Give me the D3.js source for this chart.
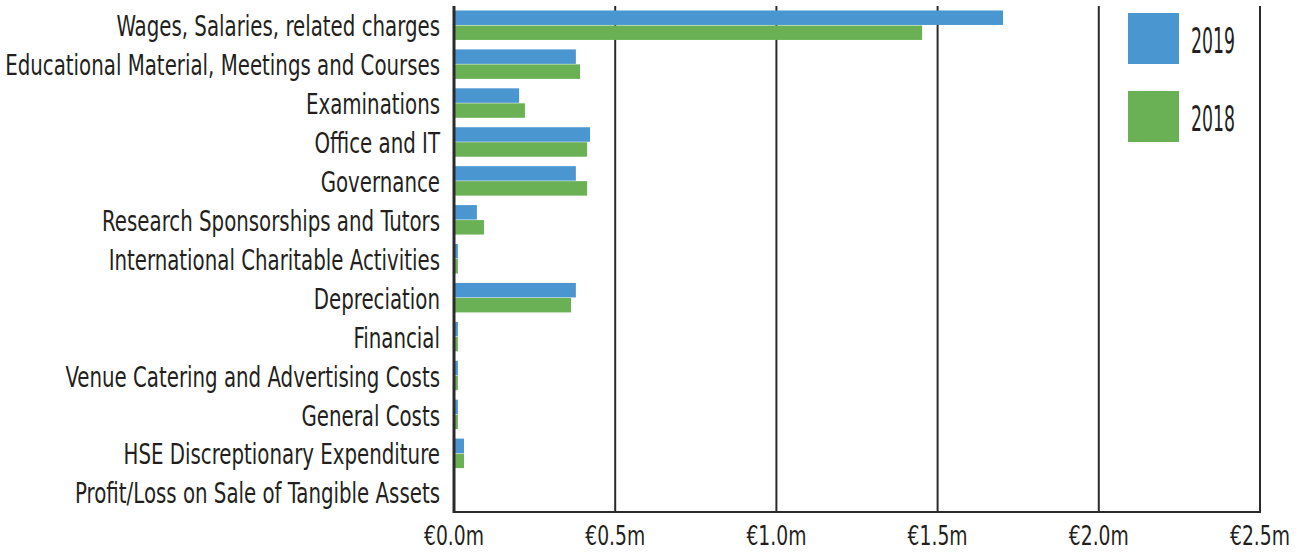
<!DOCTYPE html>
<html>
<head>
<meta charset="utf-8">
<script src="https://cdn.jsdelivr.net/npm/d3@7"></script>
<style>
html,body{margin:0;padding:0;background:#fff;}
svg{display:block;}
text{font-family:"Liberation Sans Narrow","DejaVu Sans Condensed","Roboto Condensed",sans-serif;fill:#231f20;}
</style>
</head>
<body>
<svg id="chart" width="1299" height="552"></svg>
<script>
const categories = [
  "Wages, Salaries, related charges",
  "Educational Material, Meetings and Courses",
  "Examinations",
  "Office and IT",
  "Governance",
  "Research Sponsorships and Tutors",
  "International Charitable Activities",
  "Depreciation",
  "Financial",
  "Venue Catering and Advertising Costs",
  "General Costs",
  "HSE Discreptionary Expenditure",
  "Profit/Loss on Sale of Tangible Assets"
];
const series = ["2019", "2018"];
const values2019 = [1.703, 0.378, 0.202, 0.422, 0.378, 0.071, 0.012, 0.378, 0.012, 0.012, 0.012, 0.031, 0];
const values2018 = [1.452, 0.391, 0.220, 0.413, 0.413, 0.093, 0.012, 0.363, 0.012, 0.012, 0.012, 0.031, 0];
const tickValues = [0, 0.5, 1.0, 1.5, 2.0, 2.5];
const tickLabels = ["€0.0m", "€0.5m", "€1.0m", "€1.5m", "€2.0m", "€2.5m"];
const colors = {"2019": "#4a96d1", "2018": "#6ab155"};

const svg = d3.select("#chart");
const x = d3.scaleLinear().domain([0, 2.5]).range([454, 1260]);
const y = d3.scaleBand().domain(categories).range([6, 512]).paddingInner(0.23).paddingOuter(0.115);
const y1 = d3.scaleBand().domain(series).range([0, y.bandwidth()]);

const data = categories.map((c, i) => ({cat: c, vals: [
  {s: "2019", v: values2019[i]},
  {s: "2018", v: values2018[i]}
]}));

// gridlines
svg.append("g").selectAll("line").data(tickValues.slice(1)).join("line")
  .attr("x1", d => x(d)).attr("x2", d => x(d))
  .attr("y1", 6).attr("y2", 512)
  .attr("stroke", "#2b2b2b").attr("stroke-width", 2);

// bars
const g = svg.append("g").selectAll("g").data(data).join("g")
  .attr("transform", d => `translate(0,${y(d.cat)})`);
g.selectAll("rect").data(d => d.vals).join("rect")
  .attr("x", x(0))
  .attr("y", d => y1(d.s))
  .attr("height", y1.bandwidth() - 0.5)
  .attr("width", d => x(d.v) - x(0))
  .attr("fill", d => colors[d.s]);

// axis lines
svg.append("line").attr("x1", x(0)).attr("x2", x(0)).attr("y1", 6).attr("y2", 513)
  .attr("stroke", "#2b2b2b").attr("stroke-width", 3);
svg.append("line").attr("x1", x(0)).attr("x2", x(2.5) + 1).attr("y1", 512).attr("y2", 512)
  .attr("stroke", "#2b2b2b").attr("stroke-width", 2);

// category labels
const labels = svg.append("g").selectAll("text").data(categories).join("text")
  .attr("text-anchor", "end")
  .attr("font-size", 28)
  .attr("dy", "0.35em")
  .text(d => d);
let maxW = 0;
labels.each(function(){ maxW = Math.max(maxW, this.getComputedTextLength()); });
const sxL = 435 / maxW;
labels.attr("transform", d => `translate(440,${y(d) + y.bandwidth()/2 + 1}) scale(${sxL},1)`);

// tick labels
const tl = svg.append("g").selectAll("text").data(tickValues).join("text")
  .attr("text-anchor", "middle")
  .attr("font-size", 26)
  .text((d, i) => tickLabels[i]);
let tw = tl.node().getComputedTextLength();
const sxT = 60 / tw;
tl.attr("transform", d => `translate(${x(d)},545) scale(${sxT},1)`);

// legend
const leg = svg.append("g").selectAll("g").data(series).join("g")
  .attr("transform", (d, i) => `translate(1128,${13 + i * 78})`);
leg.append("rect").attr("width", 51).attr("height", 51).attr("fill", d => colors[d]);
const lt = leg.append("text").attr("font-size", 36).text(d => d);
let lw = lt.node().getComputedTextLength();
const sxLg = 44 / lw;
lt.attr("transform", `translate(63,40) scale(${sxLg},1)`);
</script>
</body>
</html>
